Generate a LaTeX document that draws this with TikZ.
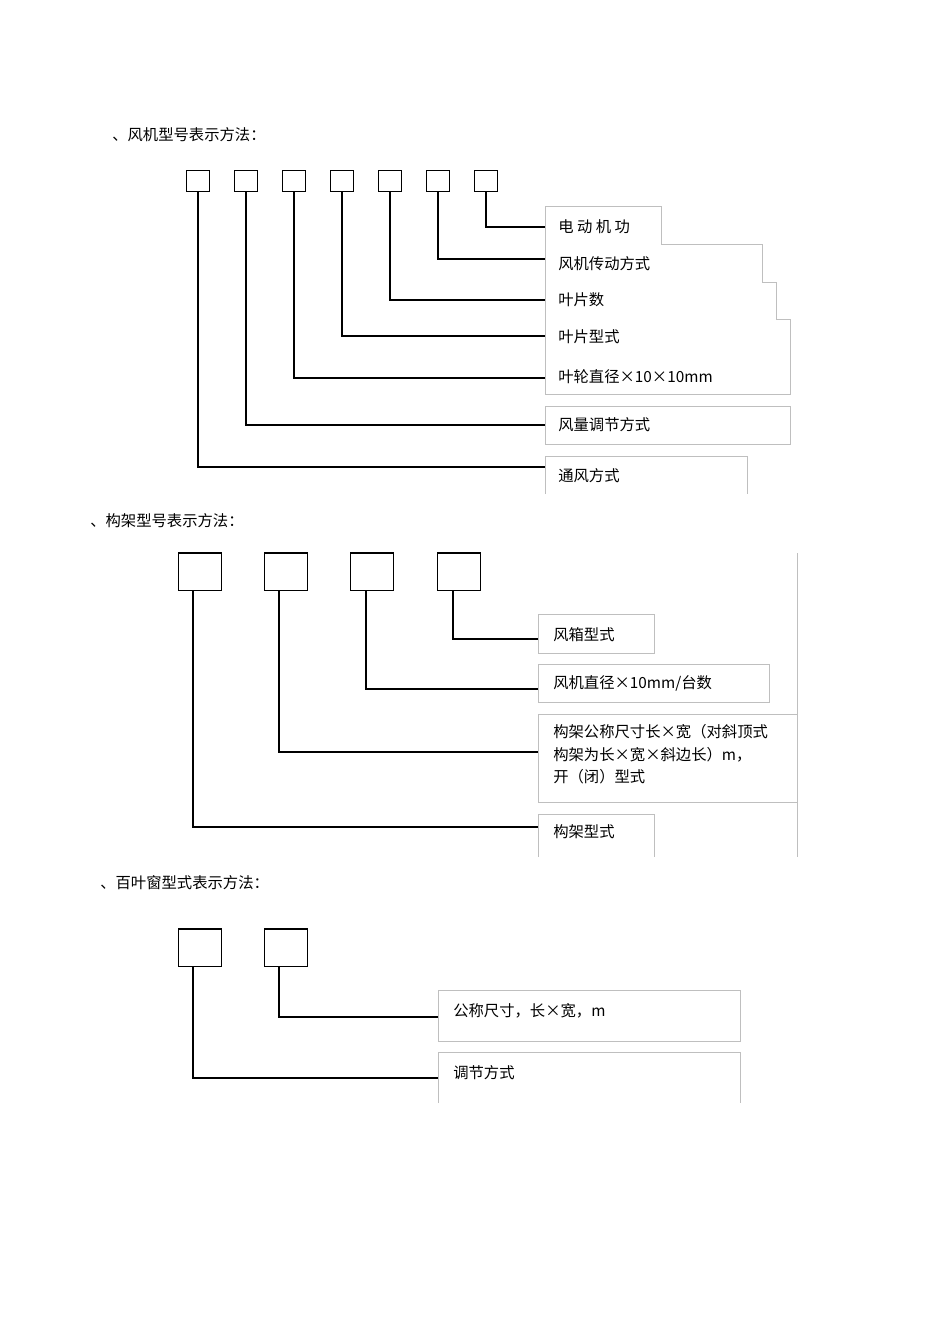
\documentclass[tikz,border=0pt]{standalone}
\usepackage{fontspec}
\setmainfont{Liberation Serif}
\newfontfamily\cjk{Noto Sans CJK SC}
\begin{document}
\begin{tikzpicture}[x=0.75pt,y=-0.75pt,
 sq/.style={draw,line width=1pt,inner sep=0pt},
 ln/.style={line width=0.9pt},
 gr/.style={draw=black!25,line width=0.6pt},
 tx/.style={anchor=west,inner sep=0pt,font=\cjk\fontsize{11.5}{17}\selectfont,align=left}]
\useasboundingbox (0,0) rectangle (950,1344);
% section 1
\node[tx] (t1) at (112,135) {、风机型号表示方法：};
\foreach \i/\x in {1/198,2/246,3/294,4/342,5/390,6/438,7/486}
  \node[sq,minimum width=17pt,minimum height=16pt] (a\i) at (\x,181) {};
\draw[gr] (545,394) -- (545,206) -- (661,206) -- (661,244) -- (762,244) -- (762,282) -- (776,282) -- (776,319) -- (790,319) -- (790,394) -- cycle;
\draw[gr] (545,406) rectangle (790,444);
\draw[gr] (545,494) -- (545,456) -- (747,456) -- (747,494);
\foreach \i/\y/\t in {7/227/{电\ 动\ 机\ 功},6/264/风机传动方式,5/300/叶片数,4/337/叶片型式,3/377/叶轮直径×10×10mm,2/425/风量调节方式,1/476/通风方式}
  \node[tx] (b\i) at (558,\y) {\t};
\foreach \i/\y in {7/227,6/259,5/300,4/336,3/378,2/425,1/467}
  {\coordinate (e\i) at (545,\y); \draw[ln] (a\i.south) |- (e\i);}
% section 2
\node[tx] (t2) at (90,521) {、构架型号表示方法：};
\foreach \i/\x in {1/200,2/286,3/372,4/459}
  \node[sq,minimum width=32pt,minimum height=28pt] (c\i) at (\x,571.5) {};
\draw[gr] (797,553) -- (797,857);
\draw[gr] (538,614) rectangle (654,653);
\draw[gr] (538,664) rectangle (769,702);
\draw[gr] (797,714) -- (538,714) -- (538,802) -- (797,802);
\draw[gr] (538,857) -- (538,814) -- (654,814) -- (654,857);
\node[tx] (d4) at (553,635) {风箱型式};
\node[tx] (d3) at (553,683) {风机直径×10mm/台数};
\node[tx,anchor=north west] (d2) at (553,724) {构架公称尺寸长×宽（对斜顶式\\构架为长×宽×斜边长）m，\\开（闭）型式};
\node[tx] (d1) at (553,832) {构架型式};
\foreach \i/\x/\y in {4/453/639,3/366/689,2/279/752,1/193/827}
  {\coordinate (f\i) at (538,\y); \draw[ln] (\x,590) |- (f\i);}
% section 3
\node[tx] (t3) at (100,883) {、百叶窗型式表示方法：};
\node[sq,minimum width=32pt,minimum height=28pt] (g1) at (200,947.5) {};
\node[sq,minimum width=32pt,minimum height=28pt] (g2) at (286,947.5) {};
\draw[gr] (438,990) rectangle (740,1041);
\draw[gr] (438,1103) -- (438,1052) -- (740,1052) -- (740,1103);
\node[tx] (h2) at (453,1011) {公称尺寸，长×宽，m};
\node[tx] (h1) at (453,1073) {调节方式};
\coordinate (k2) at (438,1017); \coordinate (k1) at (438,1078);
\draw[ln] (279,966) |- (k2);
\draw[ln] (193,966) |- (k1);
\end{tikzpicture}
\end{document}
